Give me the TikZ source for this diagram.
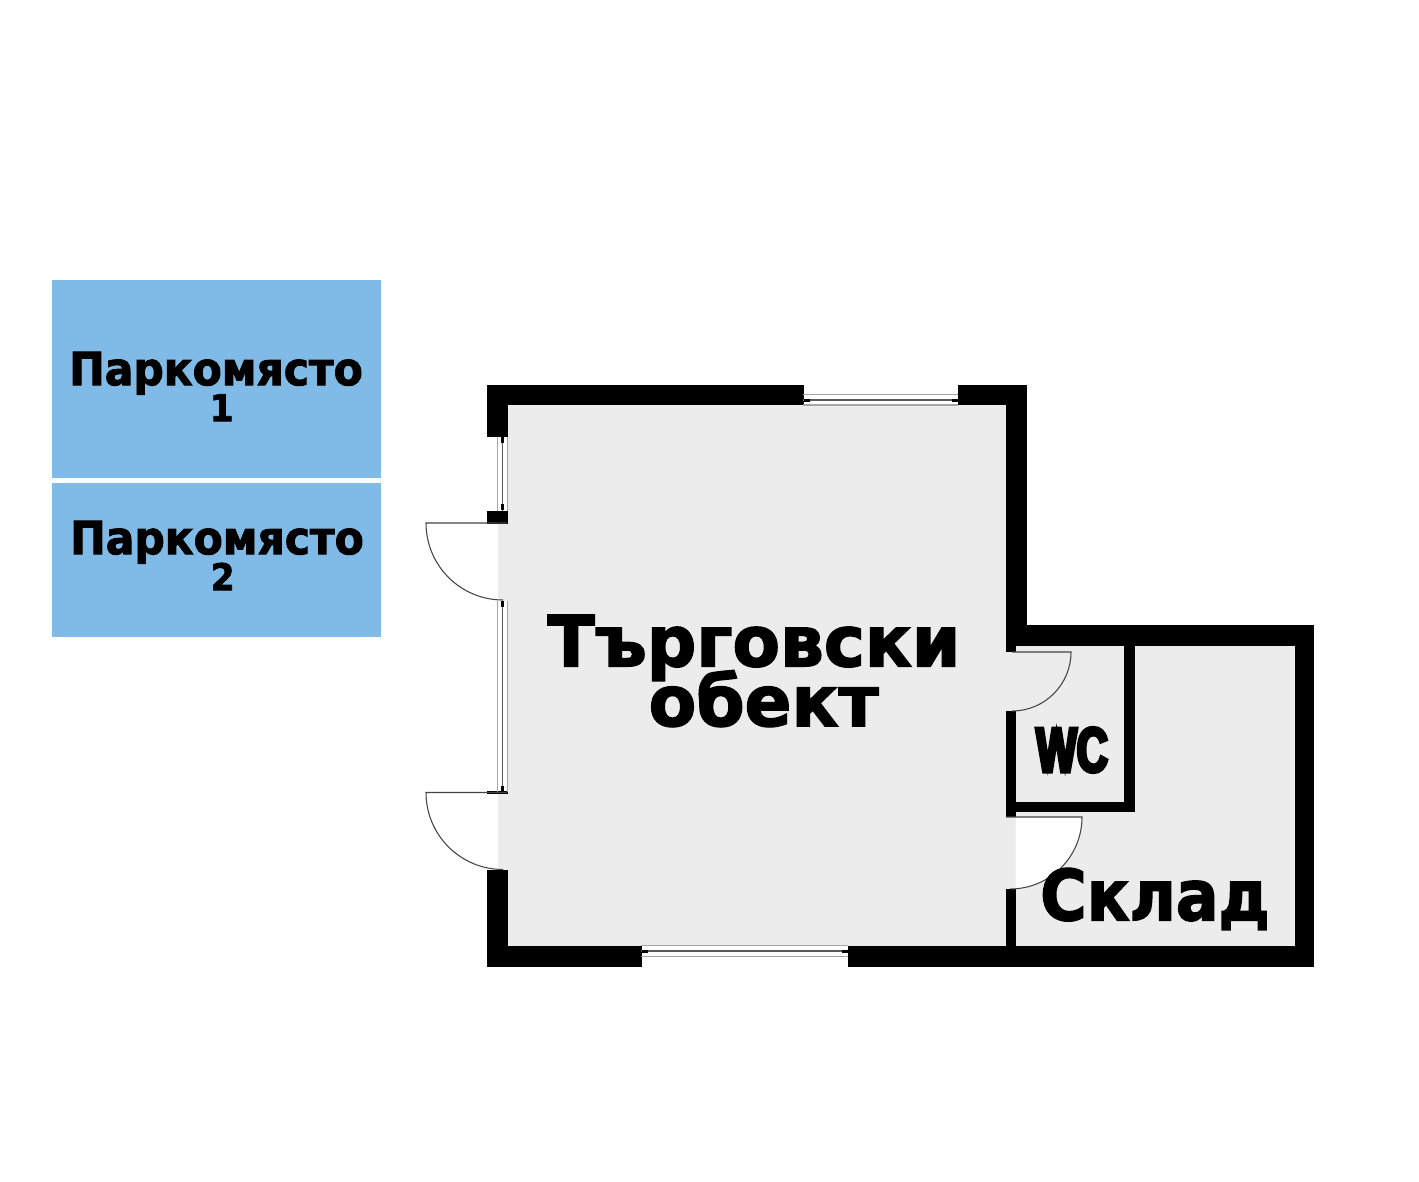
\documentclass[tikz,border=0pt]{standalone}
\usepackage{fontspec}
\newfontfamily\planfont[FakeBold=2.2,FakeStretch=0.985]{DejaVu Sans Bold}
\newfontfamily\parkfont[FakeBold=2,FakeStretch=0.93]{DejaVu Sans Bold}
\newfontfamily\storefont[FakeBold=2.2,FakeStretch=0.9]{DejaVu Sans Bold}
\newfontfamily\wcfont[FakeBold=5.5,FakeStretch=0.68]{Liberation Sans Bold}
\newcommand\tightlines{\lineskiplimit=-100pt\relax}
\definecolor{parking}{HTML}{80BBE8}
\definecolor{floorgrey}{HTML}{ECECEC}
\definecolor{leaf}{HTML}{444444}
\begin{document}
\begin{tikzpicture}[x=0.02cm,y=-0.02cm]

    \tikzset{
      wall/.style={fill=black,draw=none},
      glass/.style={line width=1.1pt,draw=black!35},
      glassmid/.style={line width=1pt,draw=black!65},
      doorleaf/.style={line width=0.6pt,draw=leaf},
      label/.style={inner sep=0pt,text=black,align=center},
    }
    \useasboundingbox (0,0) rectangle (1419,1182);
    \fill[white] (0,0) rectangle (1419,1182);
    % parking
    \fill[parking] (52,280) rectangle (381,478);
    \fill[parking] (52,483) rectangle (381,637);
    % floor
    \fill[floorgrey] (507,405)--(1006,405)--(1006,645)--(1295,645)--(1295,946)--(507,946)--(507,870)--(498,870)--(498,793)--(507,793)--(507,601)--(498,601)--(498,523)--(507,523)--cycle;
    \begin{scope}
      \clip (1015.5,817) rectangle (1090,895);
      \fill[white] (1010,817)--(1082,817) arc[start angle=0,end angle=90,radius=72]--cycle;
    \end{scope}
    % walls
    \fill[wall] (487,385) rectangle (803.5,405);
    \fill[wall] (958,385) rectangle (1027,405);
    \fill[wall] (487,385) rectangle (507.5,437);
    \fill[wall] (487,510.5) rectangle (507.5,523.5);
    \fill[wall] (487,870) rectangle (507.5,967);
    \fill[wall] (487,791) rectangle (507.5,794);
    \fill[wall] (487,946) rectangle (641.5,967);
    \fill[wall] (848,946) rectangle (1314,967);
    \fill[wall] (1006,385) rectangle (1027,645.5);
    \fill[wall] (1006,625) rectangle (1314,645.5);
    \fill[wall] (1295,625) rectangle (1314,967);
    \fill[wall] (1006,645) rectangle (1016,652);
    \fill[wall] (1006,711) rectangle (1016,817);
    \fill[wall] (1006,801.5) rectangle (1135,812);
    \fill[wall] (1124,645) rectangle (1135,812);
    \fill[wall] (1006,889) rectangle (1016,946);
    % windows
    \draw[glass] (803,394.5)--(958,394.5);
    \draw[glassmid] (803,400)--(958,400);
    \draw[glass] (803,405)--(958,405);
    \draw[glass] (641,945.5)--(848,945.5);
    \draw[glassmid] (641,951)--(848,951);
    \draw[glass] (641,956.5)--(848,956.5);
    \draw[glass] (497.5,437)--(497.5,511) (507.5,437)--(507.5,511);
    \draw[glassmid] (502.5,437)--(502.5,511);
    \draw[glass] (497.5,601)--(497.5,792) (507.5,601)--(507.5,792);
    \draw[glassmid] (502.5,601)--(502.5,792);
    \foreach \wy in {437,504,601,786}
      \fill[black] (501,\wy) rectangle (504,\wy+6);
    \foreach \wx in {804,952}
      \fill[black] (\wx,398.5) rectangle (\wx+6,401.5);
    \foreach \wx in {642,842}
      \fill[black] (\wx,949.5) rectangle (\wx+6,952.5);
    % doors
    \draw[doorleaf] (507,523)--(426,523) arc[start angle=180,end angle=90,radius=77];
    \draw[doorleaf] (507,792.5)--(426,792.5) arc[start angle=180,end angle=90,radius=77];
    \draw[doorleaf] (1012,652)--(1071,652) arc[start angle=0,end angle=90,radius=59];
    \draw[doorleaf] (1006,817)--(1082,817) arc[start angle=0,end angle=90,radius=72];
    % labels
    \node[label,font=\parkfont\fontsize{26}{20.5}\selectfont\tightlines] (parkone) at (216,386.5) {Паркомясто\\\hspace*{6.5pt}{\fontsize{21}{20.5}\selectfont 1}};
    \node[label,font=\parkfont\fontsize{26}{20.5}\selectfont\tightlines] (parktwo) at (217,555.5) {Паркомясто\\\hspace*{6.5pt}{\fontsize{21}{20.5}\selectfont 2}};
    \node[label,font=\planfont\fontsize{40}{34}\selectfont\tightlines] (shop) at (754,671) {Търговски\\\hspace*{11pt}обект};
    \node[label,font=\storefont\fontsize{40}{34}\selectfont] (store) at (1155,899) {Склад};
    \node[label,font=\wcfont\fontsize{36}{36}\selectfont] (wc) at (1072,750) {WC};

\end{tikzpicture}
\end{document}
